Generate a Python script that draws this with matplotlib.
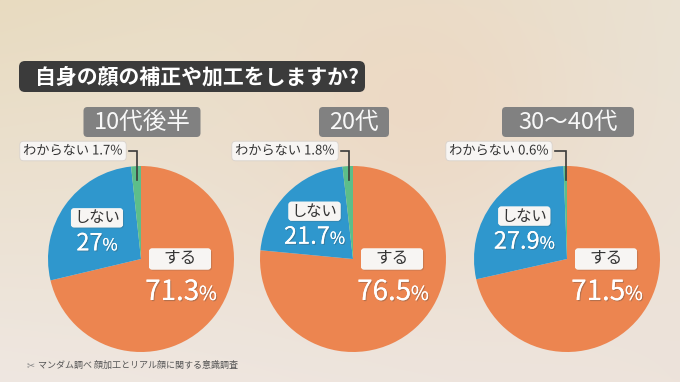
import numpy as np
import matplotlib
matplotlib.use("Agg")
import matplotlib.pyplot as plt
from matplotlib.patches import FancyBboxPatch
from matplotlib.offsetbox import TextArea, HPacker, AnnotationBbox
import matplotlib.patheffects as pe

plt.rcParams['font.family'] = ['Noto Sans CJK JP', 'DejaVu Sans']

# データ
title = "自身の顔の補正や加工をしますか?"
groups = ["10代後半", "20代", "30〜40代"]
labels = ["する", "しない", "わからない"]
suru = [71.3, 76.5, 71.5]
shinai = [27, 21.7, 27.9]
wakaranai = [1.7, 1.8, 0.6]
source = "マンダム調べ 顔加工とリアル顔に関する意識調査"

colors = ["#EC8550", "#2F97CD", "#5DBE8A"]
centers_x = [141, 353, 567]
center_y = 259
radius = 93
header_w = [117, 70, 132]

W, H = 680, 382
fig = plt.figure(figsize=(W / 100, H / 100), dpi=100)
ax = fig.add_axes([0, 0, 1, 1])

# 背景グラデーション
yy, xx = np.mgrid[0:H, 0:W]
u = xx / (W - 1)
v = yy / (H - 1)
tl = np.array([232, 219, 192]) / 255
tr = np.array([234, 226, 211]) / 255
bl = np.array([239, 231, 225]) / 255
br = np.array([237, 227, 219]) / 255
bg = ((1 - u) * (1 - v))[..., None] * tl + (u * (1 - v))[..., None] * tr \
    + ((1 - u) * v)[..., None] * bl + (u * v)[..., None] * br
blob = np.exp(-(((xx - 420) / 170) ** 2 + ((yy - 110) / 150) ** 2))[..., None]
bg = bg * (1 - 0.6 * blob) + np.array([238, 213, 190]) / 255 * 0.6 * blob
ax.imshow(bg, extent=(0, W, H, 0), aspect='auto', zorder=0)

# タイトル
ax.add_patch(FancyBboxPatch((19, 61), 346, 31, boxstyle="round,pad=0,rounding_size=6",
                            fc="#3b3b3b", ec="none", zorder=2))
ax.text(35, 77, title, color="white", fontsize=15, fontweight="bold",
        ha="left", va="center", zorder=3)

box_white = dict(boxstyle="round,pad=0.25,rounding_size=0.3", fc="#f7f5f3", ec="#d8d2cc", lw=0.6)
box_shadow = [pe.withSimplePatchShadow(offset=(0.8, -0.8), alpha=0.2), pe.Normal()]
txt_shadow = [pe.withSimplePatchShadow(offset=(0.8, -0.8), alpha=0.35), pe.Normal()]


def label_box(x, y, w, h, text, size):
    ax.add_patch(FancyBboxPatch((x - w / 2, y - h / 2), w, h,
                                boxstyle="round,pad=0,rounding_size=3",
                                fc="#f7f5f3", ec="none", zorder=4, path_effects=box_shadow))
    ax.text(x, y, text, color="#333333", fontsize=size, ha="center", va="center", zorder=5)


def pct_text(x, y, value, size):
    num = TextArea(f"{value:g}", textprops=dict(color="white", fontsize=size, path_effects=txt_shadow))
    pct = TextArea("%", textprops=dict(color="white", fontsize=size * 0.7, path_effects=txt_shadow))
    ab = AnnotationBbox(HPacker(children=[num, pct], align="baseline", pad=0, sep=0),
                        (x, y), frameon=False, box_alignment=(0.5, 0.5), pad=0, zorder=5)
    ax.add_artist(ab)


for i, g in enumerate(groups):
    cx = centers_x[i]
    vals = [suru[i], shinai[i], wakaranai[i]]
    ax.pie(vals, colors=colors, startangle=-90, counterclock=True,
           center=(cx, center_y), radius=radius, frame=True,
           wedgeprops=dict(linewidth=0, zorder=2))

    # 見出し
    hw = header_w[i]
    ax.add_patch(FancyBboxPatch((cx - hw / 2 + 1, 107), hw, 30,
                                boxstyle="round,pad=0,rounding_size=4",
                                fc="#818181", ec="none", zorder=2))
    ax.text(cx + 1, 122.5, g, color="#f8f8f8", fontsize=17, ha="center", va="center", zorder=3)

    # わからない
    a = np.radians(360 - vals[2] / 2 * 3.6)
    lx = cx + radius * 0.85 * np.sin(a)
    ax.plot([cx - 12, lx, lx], [151, 151, center_y - radius * 0.85],
            color="#3a3a3a", lw=1.2, zorder=3, solid_joinstyle="miter")
    ax.text(cx - 68, 151, f"{labels[2]} {vals[2]}%", color="#333333", fontsize=9.5,
            ha="center", va="center", bbox=box_white, zorder=4, path_effects=[pe.Normal()])

    # しない
    a = np.radians((vals[0] + vals[1] / 2) * 3.6)
    bx = cx + radius * 0.58 * np.sin(a)
    by = center_y - radius * 0.58 * np.cos(a)
    label_box(bx, by - 10, 52, 19, labels[1], 11)
    pct_text(bx, by + 16, vals[1], 17)

    # する
    sx = cx + 39
    label_box(sx, 259, 62, 21, labels[0], 12)
    pct_text(sx + 1, 292, vals[0], 20)

# 出典
ax.text(27, 365, "✂", color="#8a8a8a", fontsize=7, family="DejaVu Sans", ha="left", va="center", zorder=3)
ax.text(38, 365, source, color="#555555", fontsize=6.5, ha="left", va="center", zorder=3)

ax.set_xlim(0, W)
ax.set_ylim(H, 0)
ax.set_aspect("auto")
ax.axis("off")

fig.savefig("out.png", dpi=100)
